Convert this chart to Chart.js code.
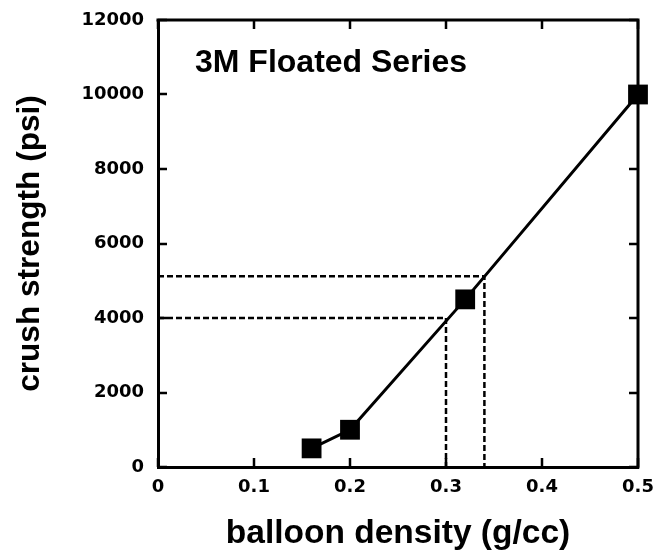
<!DOCTYPE html>
<html><head><meta charset="utf-8">
<script src="https://cdn.jsdelivr.net/npm/chart.js@4"></script>
<style>html,body{margin:0;padding:0;background:#fff}#wrap{width:657px;height:556px}</style>
</head><body><div id="wrap"><canvas id="c"></canvas></div>
<script>
const density = [0.16, 0.2, 0.32, 0.5];
const strength = [500, 1000, 4500, 10000];
const guideAX = [0, 0.3, 0.3];
const guideAY = [4000, 4000, 0];
const guideBX = [0, 0.34, 0.34];
const guideBY = [5120, 5120, 0];
const xTicks = [0, 0.1, 0.2, 0.3, 0.4, 0.5];
const yTicks = [0, 2000, 4000, 6000, 8000, 10000, 12000];
const chartTitle = '3M Floated Series';
const xTitle = 'balloon density (g/cc)';
const yTitle = 'crush strength (psi)';

const FONT = 'Liberation Sans, Arial, sans-serif';
const TICKFONT = 'DejaVu Sans, sans-serif';
const pts = (xs, ys) => xs.map((x, i) => ({x, y: ys[i]}));

const innerTicks = {
  id: 'innerTicks',
  afterDraw(chart) {
    const {ctx, chartArea: a, scales: {x, y}} = chart;
    ctx.save();
    ctx.strokeStyle = '#000';
    ctx.lineWidth = 3;
    ctx.beginPath();
    ctx.moveTo(a.left - 1.5, a.top); ctx.lineTo(a.right, a.top); ctx.lineTo(a.right, a.bottom + 1.5);
    ctx.stroke();
    const L = 9;
    ctx.lineWidth = 2.5;
    ctx.beginPath();
    xTicks.forEach(v => {
      const px = Math.round(x.getPixelForValue(v));
      ctx.moveTo(px, a.bottom); ctx.lineTo(px, a.bottom - L);
      ctx.moveTo(px, a.top); ctx.lineTo(px, a.top + L);
    });
    yTicks.forEach(v => {
      const py = Math.round(y.getPixelForValue(v));
      ctx.moveTo(a.left, py); ctx.lineTo(a.left + L, py);
      ctx.moveTo(a.right, py); ctx.lineTo(a.right - L, py);
    });
    ctx.stroke();
    ctx.fillStyle = '#000';
    ctx.font = 'bold 32px ' + FONT;
    ctx.textBaseline = 'alphabetic';
    ctx.textAlign = 'left';
    ctx.fillText(chartTitle, a.left + 37, a.top + 52);
    ctx.restore();
  }
};

new Chart(document.getElementById('c'), {
  type: 'scatter',
  data: {
    datasets: [
      {data: pts(guideAX, guideAY), showLine: true, borderColor: '#000', borderWidth: 2.5, borderDash: [6, 3], pointRadius: 0, order: 2},
      {data: pts(guideBX, guideBY), showLine: true, borderColor: '#000', borderWidth: 2.5, borderDash: [6, 3], pointRadius: 0, order: 2},
      {data: pts(density, strength), showLine: true, borderColor: '#000', borderWidth: 3, clip: false,
       pointStyle: 'rect', pointRadius: 14, pointBackgroundColor: '#000', pointBorderColor: '#000', pointBorderWidth: 0, order: 1}
    ]
  },
  options: {
    responsive: true, maintainAspectRatio: false, animation: false,
    layout: {padding: {top: 20, right: 19, left: 0, bottom: 0}},
    plugins: {legend: {display: false}, tooltip: {enabled: false}, title: {display: false}},
    scales: {
      x: {
        type: 'linear', min: 0, max: 0.5,
        afterBuildTicks: s => { s.ticks = xTicks.map(v => ({value: v})); },
        afterFit: s => { s.height = 89; s.paddingLeft = 0; s.paddingRight = 0; },
        grid: {display: false, drawTicks: false},
        border: {display: true, color: '#000', width: 3},
        ticks: {color: '#000', padding: 10, font: {family: TICKFONT, size: 18, weight: 'bold'}, maxRotation: 0,
                callback: v => String(v)},
        title: {display: true, text: xTitle, color: '#000', padding: {top: 0, bottom: 2},
                font: {family: FONT, size: 33.5, weight: 'bold'}}
      },
      y: {
        type: 'linear', min: 0, max: 12000,
        afterBuildTicks: s => { s.ticks = yTicks.map(v => ({value: v})); },
        afterFit: s => { s.width = 158; s.paddingTop = 0; s.paddingBottom = 0; },
        grid: {display: false, drawTicks: false},
        border: {display: true, color: '#000', width: 3},
        ticks: {color: '#000', padding: 14, font: {family: TICKFONT, size: 18, weight: 'bold'},
                callback: v => String(v)},
        title: {display: true, text: yTitle, color: '#000', padding: {top: 11, bottom: 0},
                font: {family: FONT, size: 31.6, weight: 'bold'}}
      }
    }
  },
  plugins: [innerTicks]
});
</script>
</body></html>
